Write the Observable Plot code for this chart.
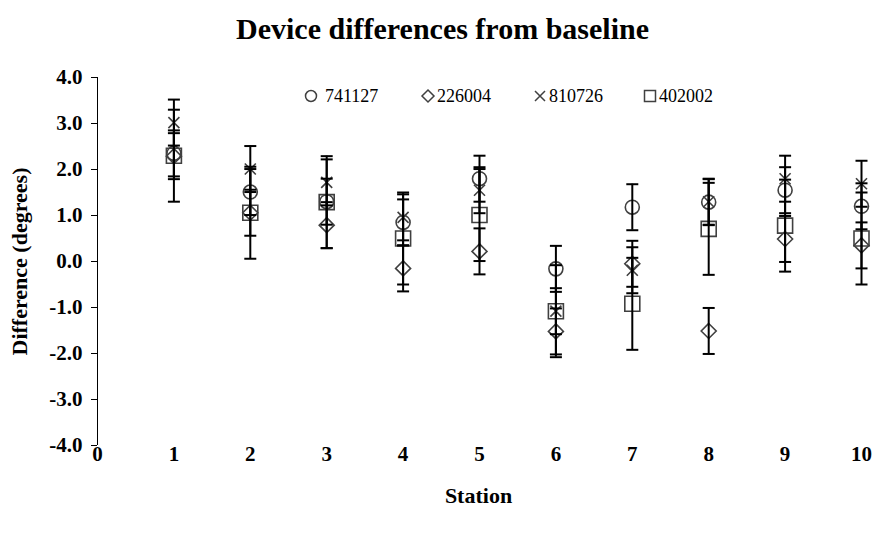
<!DOCTYPE html>
<html>
<head>
<meta charset="utf-8">
<script src="https://cdn.jsdelivr.net/npm/d3@7"></script>
<script src="https://cdn.jsdelivr.net/npm/@observablehq/plot@0.6"></script>
<style>
  body { margin: 0; background: #fff; }
  #chart { position: relative; width: 874px; height: 533px; background: #fff; }
  #legend { position: absolute; left: 0; top: 0; width: 874px; height: 0; font-family: "Liberation Serif", "Times New Roman", serif; font-size: 18px; color: #000; }
  .item { position: absolute; top: 84px; height: 24px; display: flex; align-items: center; white-space: nowrap; }
  .item svg { display: block; overflow: visible; }
</style>
</head>
<body>
<div id="chart"><div id="legend"></div></div>
<script>
// ---- data ----
const stations = [1, 2, 3, 4, 5, 6, 7, 8, 9, 10];
const devices = ["741127", "226004", "810726", "402002"];
const d741127 = [2.35, 1.51, 1.30, 0.85, 1.80, -0.16, 1.18, 1.29, 1.55, 1.20];
const d226004 = [2.29, 1.06, 0.79, -0.15, 0.22, -1.52, -0.05, -1.51, 0.49, 0.35];
const d810726 = [3.02, 2.01, 1.72, 0.96, 1.55, -1.08, -0.19, 1.30, 1.80, 1.69];
const d402002 = [2.30, 1.06, 1.29, 0.50, 1.01, -1.08, -0.92, 0.71, 0.78, 0.50];
const errors = [0.5, 0.5, 0.5, 1.0];
const xTicks = [0, 1, 2, 3, 4, 5, 6, 7, 8, 9, 10];
const yTicks = [-4, -3, -2, -1, 0, 1, 2, 3, 4];
const title = "Device differences from baseline";
const xLabel = "Station";
const yLabel = "Difference (degrees)";

const seriesValues = [d741127, d226004, d810726, d402002];

// ---- symbols ----
const rad = (size) => Math.sqrt(size / Math.PI);
const symCircle = { draw(c, s) { const r = rad(s); c.moveTo(r, 0); c.arc(0, 0, r, 0, 2 * Math.PI); } };
const symDiamond = { draw(c, s) { const r = rad(s); c.moveTo(0, -r); c.lineTo(r, 0); c.lineTo(0, r); c.lineTo(-r, 0); c.closePath(); } };
const symTimes = { draw(c, s) { const r = rad(s); c.moveTo(-r, -r); c.lineTo(r, r); c.moveTo(r, -r); c.lineTo(-r, r); } };
const symSquare = { draw(c, s) { const r = rad(s); c.rect(-r, -r, 2 * r, 2 * r); } };
const symCap = { draw(c, s) { const r = rad(s); c.moveTo(-r, 0); c.lineTo(r, 0); } };

const symbols = [symCircle, symDiamond, symTimes, symSquare];
const markerR = [7, 7.5, 5.5, 7.5];
const legendR = [5.5, 6, 5, 5.5];
const markerColor = "#404040";

const rows = [];
devices.forEach((dev, i) => {
  stations.forEach((st, j) => {
    rows.push({ station: st, device: dev, value: seriesValues[i][j], err: errors[i], k: i });
  });
});

const font = "'Liberation Serif', 'Times New Roman', serif";

const marks = [
  Plot.axisY({ ticks: yTicks, tickFormat: d => d.toFixed(1), tickSize: 6, tickPadding: 9, label: null, fontSize: 21, fontWeight: "bold" }),
  Plot.axisX({ ticks: xTicks, tickFormat: d => String(d), tickSize: 0, tickPadding: 1, label: null, fontSize: 21, fontWeight: "bold" }),
  Plot.ruleX([0], { stroke: "black", strokeWidth: 1 })
];

devices.forEach((dev, i) => {
  marks.push(Plot.dot(rows.filter(r => r.k === i), {
    x: "station", y: "value", symbol: symbols[i], r: markerR[i],
    fill: "none", stroke: markerColor, strokeWidth: 1.6
  }));
});

marks.push(
  Plot.ruleX(rows, { x: "station", y1: d => d.value - d.err, y2: d => d.value + d.err, stroke: "black", strokeWidth: 2 }),
  Plot.dot(rows, { x: "station", y: d => d.value + d.err, symbol: symCap, r: 6, stroke: "black", fill: "none", strokeWidth: 2 }),
  Plot.dot(rows, { x: "station", y: d => d.value - d.err, symbol: symCap, r: 6, stroke: "black", fill: "none", strokeWidth: 2 }),
  Plot.text([title], { text: d => d, frameAnchor: "top", textAnchor: "middle", lineAnchor: "middle", dx: -37, dy: -48, fontSize: 30, fontWeight: "bold", fill: "black" }),
  Plot.text([xLabel], { text: d => d, frameAnchor: "bottom", textAnchor: "middle", lineAnchor: "middle", dx: -1, dy: 50, fontSize: 22, fontWeight: "bold", fill: "black" }),
  Plot.text([yLabel], { text: d => d, frameAnchor: "left", textAnchor: "middle", lineAnchor: "middle", dx: -78, rotate: -90, fontSize: 22, fontWeight: "bold", fill: "black" })
);

const chart = Plot.plot({
  width: 874,
  height: 533,
  marginLeft: 97,
  marginRight: 13,
  marginTop: 77,
  marginBottom: 88,
  x: { domain: [0, 10] },
  y: { domain: [-4, 4] },
  style: { fontFamily: font, fontSize: "21px", color: "black", background: "white" },
  marks
});
chart.style.position = "absolute";
chart.style.left = "0";
chart.style.top = "0";
document.getElementById("chart").prepend(chart);

// ---- legend ----
const legendX = [304, 421, 533, 643];
const legend = d3.select("#legend");
devices.forEach((dev, i) => {
  const item = legend.append("div").attr("class", "item").style("left", legendX[i] + "px");
  const sz = 14;
  const svg = item.append("svg").attr("width", sz).attr("height", sz)
    .style("margin-right", i === 0 ? "7px" : "2px");
  svg.append("path")
    .attr("transform", `translate(${sz / 2},${sz / 2})`)
    .attr("d", d3.symbol(symbols[i], Math.PI * legendR[i] * legendR[i])())
    .attr("fill", "none").attr("stroke", markerColor).attr("stroke-width", 1.5);
  item.append("span").text(dev);
});
</script>
</body>
</html>
